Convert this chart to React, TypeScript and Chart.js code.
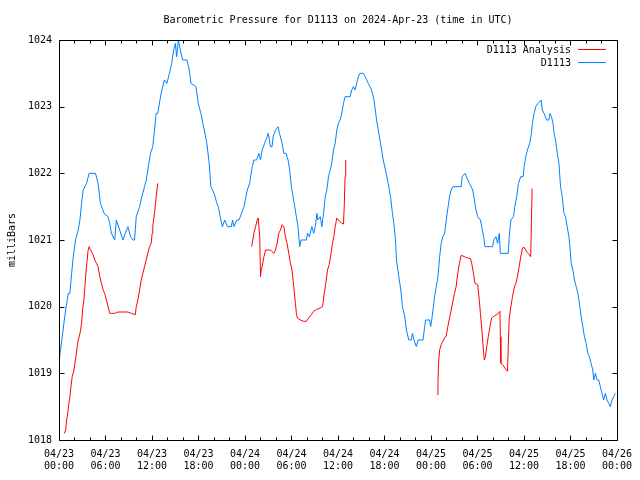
import React, { useEffect, useRef } from "react";
import { Chart, registerables } from "chart.js";

Chart.register(...registerables);

const chartTitle = "Barometric Pressure for D1113 on 2024-Apr-23 (time in UTC)";
const yAxisLabel = "milliBars";
const xTickDates = ["04/23", "04/23", "04/23", "04/23", "04/24", "04/24", "04/24", "04/24", "04/25", "04/25", "04/25", "04/25", "04/26"];
const xTickTimes = ["00:00", "06:00", "12:00", "18:00", "00:00", "06:00", "12:00", "18:00", "00:00", "06:00", "12:00", "18:00", "00:00"];
const yTicks = [1018, 1019, 1020, 1021, 1022, 1023, 1024];

// hours since 2024-04-23 00:00 UTC
const blueHours = [
  0, 0.13, 0.42, 0.68, 0.99, 1.19, 1.41, 1.63, 1.84, 2.14, 2.48, 2.7, 2.91, 3.12, 3.56, 3.89, 4.71, 5.04, 5.35, 5.81,
  6.33, 6.55, 6.76, 7.19, 7.4, 7.83, 8.25, 8.56, 8.89, 9.24, 9.54, 9.75, 9.97, 10.4, 10.69, 11.04, 11.26, 11.46, 11.81, 12.1,
  12.32, 12.54, 12.74, 13.18, 13.6, 13.92, 14.25, 14.54, 14.8, 15.02, 15.18, 15.4, 15.66, 15.95, 16.52, 16.81, 17.03, 17.67, 17.97, 18.31,
  18.74, 19.08, 19.38, 19.6, 20.02, 20.37, 20.57, 20.88, 21.09, 21.39, 21.73, 22.24, 22.4, 22.59, 22.93, 23.23, 23.87, 24.3, 24.6, 24.94,
  25.15, 25.5, 25.8, 26.0, 26.22, 26.53, 26.86, 27.0, 27.3, 27.5, 27.63, 27.94, 28.27, 28.45, 28.79, 29.01, 29.3, 29.56, 29.77, 29.99,
  30.2, 30.42, 30.63, 30.84, 31.06, 31.23, 31.92, 32.09, 32.3, 32.64, 32.86, 33.07, 33.28, 33.4, 33.72, 33.92, 34.14, 34.36, 34.56, 34.78,
  35.0, 35.2, 35.42, 35.64, 35.85, 36.06, 36.28, 36.49, 36.71, 36.92, 37.57, 37.77, 37.99, 38.2, 38.41, 38.63, 38.85, 39.27, 39.49, 39.91,
  40.34, 40.65, 40.98, 41.2, 41.49, 41.84, 42.13, 42.48, 42.78, 43.03, 43.21, 43.42, 43.55, 43.85, 44.11, 44.32, 44.62, 44.83, 45.14, 45.47,
  45.6, 45.82, 46.11, 46.33, 46.97, 47.19, 47.3, 47.83, 47.96, 48.1, 48.26, 48.47, 48.68, 48.9, 49.12, 49.32, 49.54, 49.76, 50.09, 50.4,
  50.61, 50.82, 51.89, 52.02, 52.4, 52.75, 52.97, 53.39, 53.61, 53.81, 54.03, 54.38, 54.55, 54.8, 54.97, 55.96, 56.09, 56.38, 56.6, 56.82,
  56.95, 57.97, 58.1, 58.31, 58.65, 58.82, 59.07, 59.29, 59.59, 59.9, 60.02, 60.23, 60.45, 60.74, 60.96, 61.09, 61.31, 61.52, 61.82, 62.21,
  62.37, 62.59, 62.93, 63.2, 63.36, 63.55, 63.75, 63.88, 64.08, 64.3, 64.52, 64.72, 64.94, 65.16, 65.36, 65.58, 65.8, 65.93, 66.1, 66.31,
  66.52, 66.74, 66.96, 67.16, 67.38, 67.6, 67.8, 68.02, 68.24, 68.45, 68.66, 68.88, 69.01, 69.21, 69.44, 69.65, 69.86, 70.07, 70.29, 70.5,
  70.72, 70.93, 71.14, 71.36, 71.58, 71.78,
];
const blueValues = [
  1019.1, 1019.3, 1019.55, 1019.8, 1020.05, 1020.2, 1020.2, 1020.5, 1020.75, 1021.0, 1021.15, 1021.3, 1021.55, 1021.75, 1021.85, 1022.0, 1022.0, 1021.85, 1021.55, 1021.4,
  1021.35, 1021.25, 1021.1, 1021.0, 1021.3, 1021.15, 1021.0, 1021.1, 1021.2, 1021.05, 1021.0, 1021.0, 1021.35, 1021.5, 1021.65, 1021.8, 1021.9, 1022.05, 1022.3, 1022.4,
  1022.65, 1022.9, 1022.9, 1023.2, 1023.4, 1023.35, 1023.5, 1023.65, 1023.85, 1023.95, 1023.75, 1024.0, 1023.85, 1023.7, 1023.7, 1023.55, 1023.35, 1023.3, 1023.05, 1022.9,
  1022.65, 1022.45, 1022.15, 1021.8, 1021.7, 1021.55, 1021.5, 1021.3, 1021.2, 1021.3, 1021.2, 1021.2, 1021.3, 1021.2, 1021.3, 1021.3, 1021.5, 1021.75, 1021.85, 1022.1,
  1022.2, 1022.2, 1022.3, 1022.2, 1022.35, 1022.45, 1022.55, 1022.6, 1022.4, 1022.4, 1022.55, 1022.65, 1022.7, 1022.6, 1022.45, 1022.3, 1022.3, 1022.2, 1022.05, 1021.8,
  1021.65, 1021.5, 1021.35, 1021.2, 1020.9, 1021.0, 1021.0, 1021.1, 1021.05, 1021.2, 1021.1, 1021.2, 1021.4, 1021.3, 1021.35, 1021.2, 1021.4, 1021.65, 1021.75, 1021.95,
  1022.05, 1022.15, 1022.35, 1022.45, 1022.65, 1022.75, 1022.8, 1022.9, 1023.05, 1023.15, 1023.15, 1023.25, 1023.3, 1023.25, 1023.35, 1023.45, 1023.5, 1023.5, 1023.45, 1023.35,
  1023.25, 1023.1, 1022.8, 1022.65, 1022.45, 1022.2, 1022.05, 1021.85, 1021.65, 1021.4, 1021.25, 1021.0, 1020.7, 1020.45, 1020.25, 1020.0, 1019.85, 1019.65, 1019.5, 1019.5,
  1019.6, 1019.5, 1019.4, 1019.5, 1019.5, 1019.7, 1019.8, 1019.8, 1019.7, 1019.8, 1019.95, 1020.15, 1020.3, 1020.45, 1020.75, 1020.95, 1021.05, 1021.1, 1021.4, 1021.65,
  1021.75, 1021.8, 1021.8, 1021.95, 1022.0, 1021.9, 1021.85, 1021.75, 1021.6, 1021.45, 1021.35, 1021.3, 1021.2, 1021.05, 1020.9, 1020.9, 1021.0, 1021.05, 1020.95, 1021.1,
  1020.8, 1020.8, 1021.05, 1021.3, 1021.35, 1021.5, 1021.65, 1021.85, 1021.95, 1021.95, 1022.1, 1022.25, 1022.35, 1022.45, 1022.6, 1022.75, 1022.9, 1023.0, 1023.05, 1023.1,
  1022.95, 1022.9, 1022.8, 1022.8, 1022.9, 1022.85, 1022.75, 1022.6, 1022.5, 1022.3, 1022.15, 1021.8, 1021.65, 1021.4, 1021.35, 1021.2, 1021.05, 1020.9, 1020.65, 1020.55,
  1020.4, 1020.3, 1020.2, 1020.05, 1019.85, 1019.7, 1019.55, 1019.45, 1019.3, 1019.25, 1019.15, 1019.05, 1018.9, 1019.0, 1018.9, 1018.9, 1018.8, 1018.7, 1018.6, 1018.7,
  1018.6, 1018.55, 1018.5, 1018.6, 1018.65, 1018.7,
];

// analysis series; null marks a break between runs
const redHours = [
  0.68, 0.86, 0.99, 1.12, 1.28, 1.41, 1.54, 1.71, 1.93, 2.05, 2.18, 2.35, 2.48, 2.61, 2.79, 2.91, 3.04, 3.21, 3.34, 3.47,
  3.59, 3.76, 3.89, 4.07, 4.33, 4.62, 4.84, 5.04, 5.26, 5.48, 5.69, 5.9, 6.12, 6.33, 6.55, 6.76, 7.19, 7.62, 8.89, 9.33,
  9.84, 9.97, 10.18, 10.4, 10.61, 10.82, 11.04, 11.26, 11.46, 11.68, 11.9, 12.02, 12.1, 12.32, 12.54, 12.74,
  18.0,
  24.86, 25.15, 25.37, 25.58, 25.71, 25.9, 26.01, 26.09, 26.22, 26.44, 26.66, 26.86, 27.3, 27.72, 27.94, 28.15, 28.36, 28.58, 28.79, 29.01,
  29.22, 29.43, 29.65, 29.87, 30.07, 30.29, 30.51, 30.63, 30.76, 31.15, 31.57, 31.92, 32.21, 32.56, 32.86, 33.28, 33.72, 34.01, 34.23, 34.43,
  34.65, 34.87, 35.08, 35.29, 35.51, 35.64, 35.85, 36.06, 36.49, 36.71, 36.8, 36.92, 37.0,
  43.0,
  48.81, 48.9, 48.99, 49.12, 49.32, 49.54, 49.76, 49.96, 50.18, 50.4, 50.61, 50.82, 51.04, 51.25, 51.46, 51.68, 51.89, 52.32, 52.75, 53.09,
  53.26, 53.48, 53.68, 54.03, 54.25, 54.38, 54.55, 54.67, 54.8, 54.89, 55.02, 55.19, 55.4, 55.61, 55.83, 56.17, 56.6, 56.9, 56.95, 57.02,
  57.24, 57.54, 57.88, 57.97, 58.1, 58.31, 58.52, 58.74, 58.95, 59.16, 59.38, 59.59, 59.81, 60.02, 60.23, 60.45, 60.66, 60.87, 60.96, 61.05,
];
const redValues = [
  1018.1, 1018.15, 1018.3, 1018.4, 1018.55, 1018.65, 1018.8, 1018.95, 1019.05, 1019.15, 1019.25, 1019.4, 1019.5, 1019.55, 1019.65, 1019.75, 1019.95, 1020.1, 1020.3, 1020.5,
  1020.65, 1020.85, 1020.9, 1020.85, 1020.8, 1020.7, 1020.65, 1020.6, 1020.45, 1020.35, 1020.25, 1020.2, 1020.1, 1020.0, 1019.9, 1019.9, 1019.9, 1019.92, 1019.92, 1019.9,
  1019.88, 1020.0, 1020.1, 1020.25, 1020.4, 1020.5, 1020.6, 1020.7, 1020.8, 1020.9, 1020.95, 1021.1, 1021.2, 1021.4, 1021.65, 1021.85,
  null,
  1020.9, 1021.1, 1021.2, 1021.3, 1021.33, 1021.05, 1020.45, 1020.55, 1020.6, 1020.75, 1020.85, 1020.85, 1020.85, 1020.8, 1020.85, 1020.95, 1021.1, 1021.15, 1021.23, 1021.2,
  1021.05, 1020.95, 1020.8, 1020.65, 1020.55, 1020.3, 1020.05, 1019.9, 1019.83, 1019.8, 1019.78, 1019.78, 1019.83, 1019.88, 1019.93, 1019.96, 1019.98, 1020.0, 1020.2, 1020.35,
  1020.55, 1020.63, 1020.78, 1020.95, 1021.08, 1021.2, 1021.33, 1021.3, 1021.25, 1021.24, 1021.48, 1021.95, 1022.2,
  null,
  1018.68, 1018.85, 1019.18, 1019.35, 1019.43, 1019.48, 1019.53, 1019.56, 1019.7, 1019.83, 1019.95, 1020.08, 1020.2, 1020.3, 1020.5, 1020.65, 1020.77, 1020.75, 1020.73, 1020.72,
  1020.65, 1020.5, 1020.35, 1020.33, 1020.08, 1019.9, 1019.68, 1019.5, 1019.3, 1019.2, 1019.25, 1019.4, 1019.55, 1019.7, 1019.83, 1019.86, 1019.89, 1019.93, 1019.55, 1019.15,
  1019.13, 1019.08, 1019.03, 1019.4, 1019.83, 1020.0, 1020.15, 1020.28, 1020.35, 1020.45, 1020.6, 1020.75, 1020.88, 1020.89, 1020.85, 1020.81, 1020.78, 1020.75, 1021.25, 1021.77,
];

const FONT = '"DejaVu Sans Mono", "Liberation Mono", monospace';

const decorPlugin = {
  id: "decor",
  afterDraw(chart: any) {
    const { ctx, chartArea: a, scales } = chart;
    const xs = scales.x;
    const ys = scales.y;
    ctx.save();
    ctx.strokeStyle = "#000";
    ctx.lineWidth = 1;
    const L = Math.round(a.left) + 0.5;
    const R = Math.round(a.right) + 0.5;
    const T = Math.round(a.top) + 0.5;
    const B = Math.round(a.bottom) + 0.5;
    ctx.beginPath();
    ctx.rect(L, T, R - L, B - T);
    // x ticks (major every 6h, minor every 2h), bottom and top
    for (let h = 0; h <= 72; h += 2) {
      const px = Math.round(xs.getPixelForValue(h)) + 0.5;
      const len = h % 6 === 0 ? 5 : 3;
      ctx.moveTo(px, B);
      ctx.lineTo(px, B - len);
      ctx.moveTo(px, T);
      ctx.lineTo(px, T + len);
    }
    yTicks.forEach((v) => {
      const py = Math.round(ys.getPixelForValue(v)) + 0.5;
      ctx.moveTo(L, py);
      ctx.lineTo(L + 5, py);
      ctx.moveTo(R, py);
      ctx.lineTo(R - 5, py);
    });
    ctx.stroke();

    ctx.fillStyle = "#000";
    ctx.font = `10px ${FONT}`;
    ctx.textBaseline = "middle";
    ctx.textAlign = "center";
    ctx.fillText(chartTitle, (a.left + a.right) / 2, 20);

    ctx.save();
    ctx.translate(12, (a.top + a.bottom) / 2);
    ctx.rotate(-Math.PI / 2);
    ctx.fillText(yAxisLabel, 0, 0);
    ctx.restore();

    // legend
    ctx.textAlign = "right";
    chart.data.datasets.forEach((ds: any, i: number) => {
      const y = 50 + i * 13;
      ctx.fillStyle = "#000";
      ctx.fillText(ds.label, a.right - 46, y);
      ctx.strokeStyle = ds.borderColor;
      ctx.beginPath();
      ctx.moveTo(a.right - 39, y - 0.5);
      ctx.lineTo(a.right - 11, y - 0.5);
      ctx.stroke();
    });
    ctx.restore();
  },
};

export default function App() {
  const ref = useRef<HTMLCanvasElement | null>(null);
  useEffect(() => {
    if (!ref.current) return;
    const red = redHours.map((h, i) => ({ x: h, y: redValues[i] }));
    const blue = blueHours.map((h, i) => ({ x: h, y: blueValues[i] }));
    const chart = new Chart(ref.current, {
      type: "line",
      data: {
        datasets: [
          { label: "D1113 Analysis", data: red as any, borderColor: "#ff0000", borderWidth: 1, pointRadius: 0, tension: 0, spanGaps: false, fill: false },
          { label: "D1113", data: blue as any, borderColor: "#0080ff", borderWidth: 1, pointRadius: 0, tension: 0, spanGaps: false, fill: false },
        ],
      },
      options: {
        responsive: false,
        animation: false,
        events: [],
        layout: { padding: { top: 40, right: 20, left: 0, bottom: 0 } },
        scales: {
          x: {
            type: "linear",
            min: 0,
            max: 72,
            grid: { display: false, drawTicks: false },
            border: { display: false },
            afterFit: (s: any) => {
              s.height = 40;
            },
            ticks: {
              stepSize: 6,
              autoSkip: false,
              maxRotation: 0,
              padding: 8,
              color: "#000",
              font: { family: FONT, size: 10, lineHeight: 1.25 },
              callback: (v: any) => {
                const i = Math.round(Number(v) / 6);
                return [xTickDates[i], xTickTimes[i]];
              },
            },
          },
          y: {
            type: "linear",
            min: 1018,
            max: 1024,
            grid: { display: false, drawTicks: false },
            border: { display: false },
            afterFit: (s: any) => {
              s.width = 59;
            },
            ticks: {
              stepSize: 1,
              padding: 7,
              color: "#000",
              font: { family: FONT, size: 10 },
              callback: (v: any) => String(v),
            },
          },
        },
        plugins: {
          legend: { display: false },
          title: { display: false },
          tooltip: { enabled: false },
        },
      },
      plugins: [decorPlugin],
    });
    return () => chart.destroy();
  }, []);
  return (
    <div style={{ position: "absolute", left: 0, top: 0, width: 640, height: 480, background: "#fff" }}>
      <canvas ref={ref} width={640} height={480} />
    </div>
  );
}
